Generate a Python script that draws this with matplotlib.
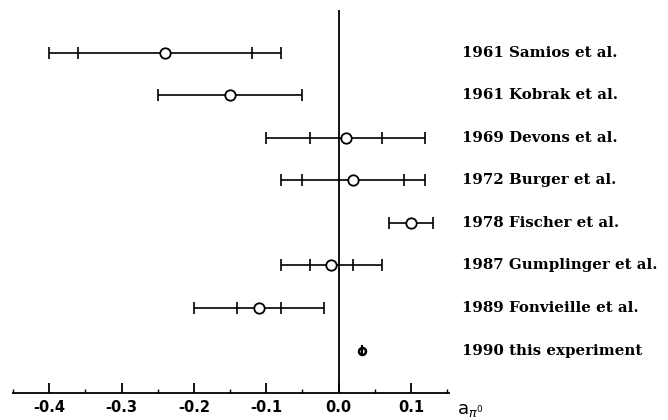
import matplotlib
matplotlib.use("Agg")
import matplotlib.pyplot as plt
import numpy as np

# measurements of the pi0 slope parameter
labels = ["1961 Samios et al.", "1961 Kobrak et al.", "1969 Devons et al.",
          "1972 Burger et al.", "1978 Fischer et al.", "1987 Gumplinger et al.",
          "1989 Fonvieille et al.", "1990 this experiment"]
values = [-0.24, -0.15, 0.01, 0.02, 0.10, -0.01, -0.11, 0.032]
err_stat = [0.12, 0.0, 0.05, 0.07, 0.0, 0.03, 0.03, 0.0]
err_tot = [0.16, 0.10, 0.11, 0.10, 0.03, 0.07, 0.09, 0.004]
ticks = [-0.4, -0.3, -0.2, -0.1, 0.0, 0.1]

plt.rcParams['axes.unicode_minus'] = False

fig = plt.figure(figsize=(6.68, 4.2), dpi=100)
ax = fig.add_axes([0.0195, 0.064, 0.652, 0.912])

n = len(labels)
ypos = np.arange(n, 0, -1)

# full error bars with caps
ax.errorbar(values[:-1], ypos[:-1], xerr=err_tot[:-1], fmt='none', ecolor='k',
            elinewidth=1.2, capsize=4, capthick=1.2, zorder=2)
# statistical part shown as inner ticks only
has_stat = [i for i in range(n) if err_stat[i] > 0]
ax.errorbar([values[i] for i in has_stat], [ypos[i] for i in has_stat],
            xerr=[err_stat[i] for i in has_stat], fmt='none', ecolor='k',
            elinewidth=0, capsize=4, capthick=1.2, zorder=2)
ax.plot(values[:-1], ypos[:-1], 'o', ms=7.5, mfc='white', mec='k', mew=1.3, zorder=3)

# this experiment
ax.errorbar(values[-1], ypos[-1], xerr=err_tot[-1], fmt='o', ms=5, mfc='white',
            mec='k', mew=1.8, ecolor='k', elinewidth=1.5, capsize=0, zorder=3)
ax.plot([values[-1], values[-1]], [ypos[-1] - 0.1, ypos[-1] + 0.1], color='k', lw=1.5, zorder=4)

ax.axvline(0, color='k', lw=1.3, zorder=1)

for y, lab in zip(ypos, labels):
    ax.text(1.032, y, lab, transform=ax.get_yaxis_transform(), ha='left', va='center',
            family='DejaVu Serif', weight='bold', fontsize=10.8, clip_on=False)

ax.set_xlim(-0.45, 0.152)
ax.set_ylim(0, 9)
for s in ['top', 'left', 'right']:
    ax.spines[s].set_visible(False)
ax.spines['bottom'].set_linewidth(1.3)
ax.set_yticks([])
ax.set_xticks(ticks)
ax.set_xticklabels([f"{t:.1f}" for t in ticks], fontsize=10.5, weight='bold')
ax.set_xticks(np.arange(-0.45, 0.16, 0.05), minor=True)
ax.tick_params(axis='x', which='major', direction='in', length=7, width=1.3, pad=5)
ax.tick_params(axis='x', which='minor', direction='in', length=3, width=1.0)

ax.text(1.02, -0.045, r'$\mathrm{a}_{\pi^0}$', transform=ax.transAxes, ha='left', va='center',
        fontsize=13)

fig.savefig("out.png", dpi=100)
